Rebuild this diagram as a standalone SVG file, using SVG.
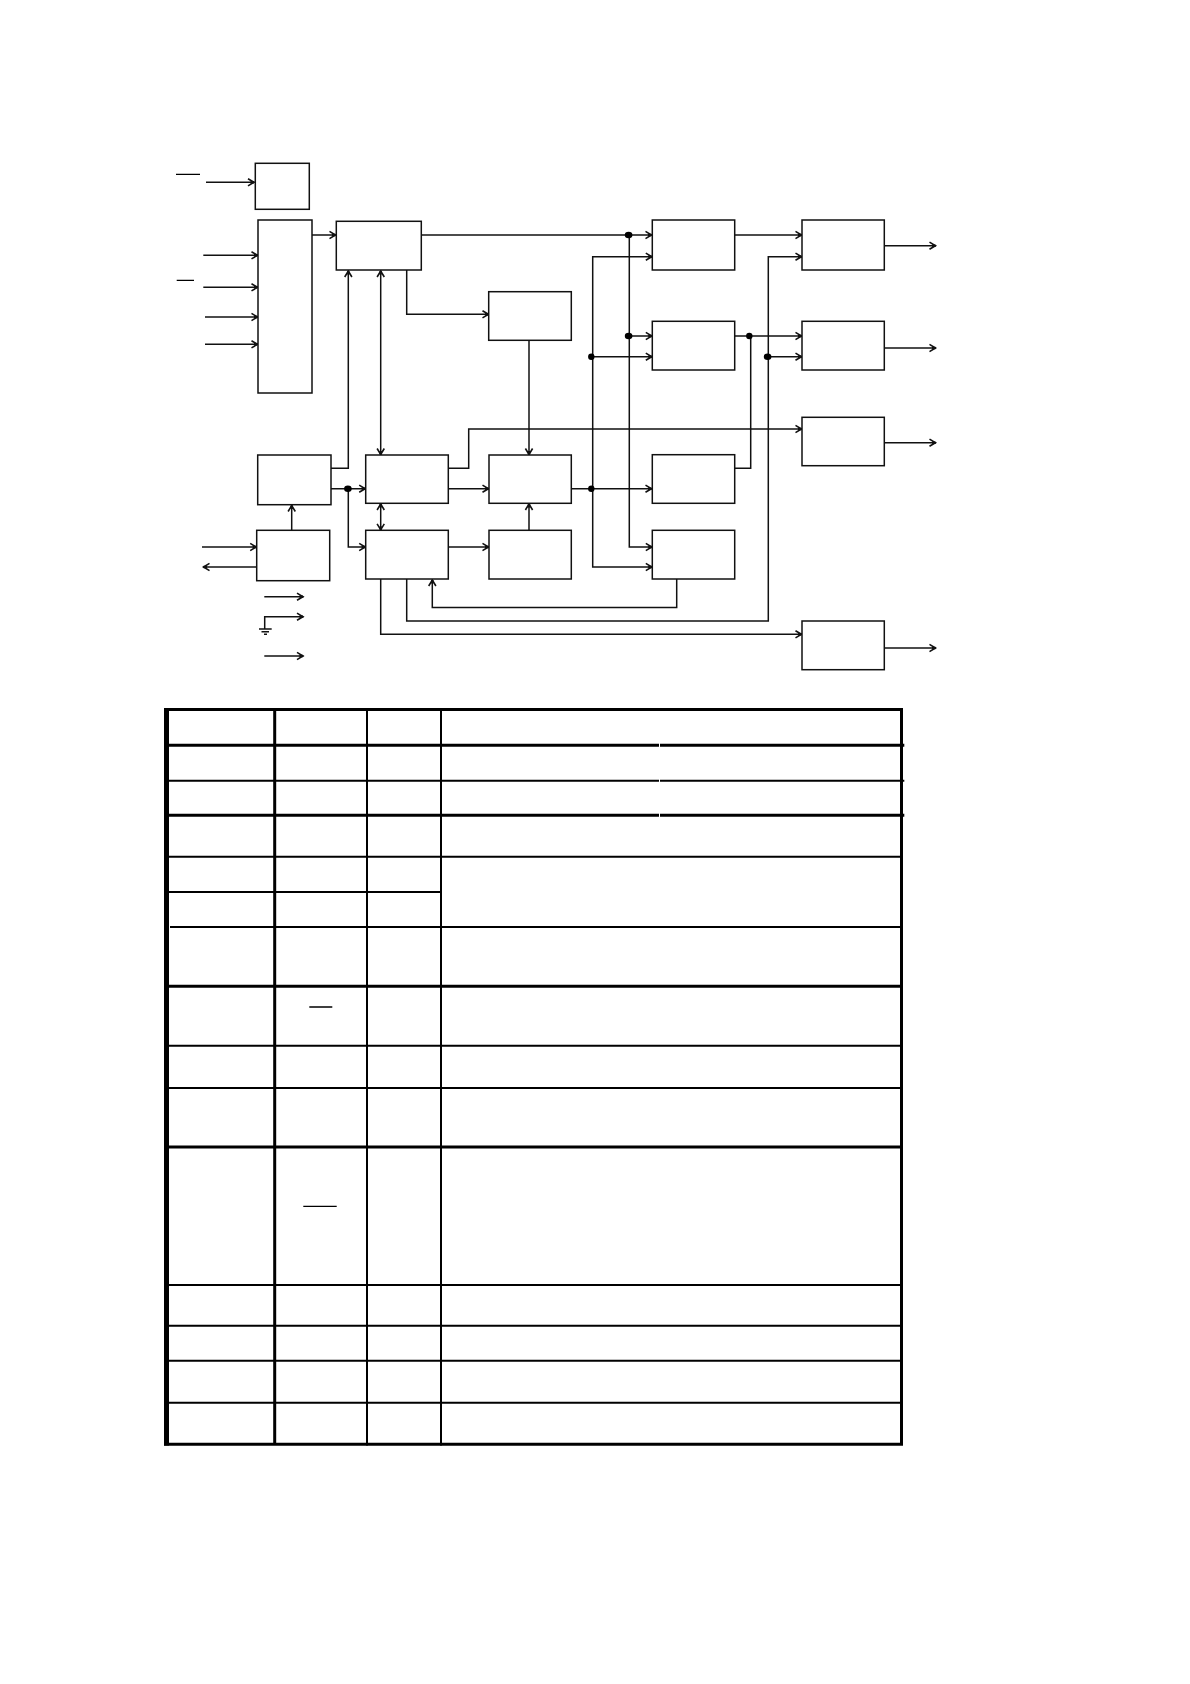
<svg xmlns="http://www.w3.org/2000/svg" width="1190" height="1684" viewBox="0 0 1190 1684">
<style>
.b{fill:#fff;stroke:#111;stroke-width:1.5}
.c{fill:none;stroke:#111;stroke-width:1.5}
.a{marker-end:url(#ar)}
.d{marker-start:url(#arS);marker-end:url(#ar)}
.n{fill:#000;stroke:none}
.t5{stroke:#000;stroke-width:5;fill:none}
.t3{stroke:#000;stroke-width:3;fill:none}
.t2{stroke:#000;stroke-width:2;fill:none}
.o{stroke:#000;stroke-width:1.3;fill:none}
</style>
<defs>
<marker id="ar" markerUnits="userSpaceOnUse" markerWidth="14" markerHeight="14" refX="12" refY="7" orient="auto"><path d="M5.500,3.400 L11.500,7 L5.500,10.600" fill="none" stroke="#111" stroke-width="1.600"/><path d="M8,7 L11.500,7" stroke="#111" stroke-width="2.400"/></marker>
<marker id="arS" markerUnits="userSpaceOnUse" markerWidth="14" markerHeight="14" refX="2" refY="7" orient="auto"><path d="M8.500,3.400 L2.500,7 L8.500,10.600" fill="none" stroke="#111" stroke-width="1.600"/><path d="M6,7 L2.500,7" stroke="#111" stroke-width="2.400"/></marker>
</defs>
<rect width="1190" height="1684" fill="#fff"/>
<g id="connectors">
<path class="o" d="M176 174.300H200M176.700 280.300H194"/>
<path class="c a" d="M206 182.300H254.500"/>
<path class="c a" d="M203.300 255.300H258"/>
<path class="c a" d="M203.300 287.300H258"/>
<path class="c a" d="M205 317H258"/>
<path class="c a" d="M205 344.300H258"/>
<path class="c a" d="M312 235H336"/>
<path class="c a" d="M421 235H652"/>
<path class="c a" d="M734.700 235H802"/>
<path class="c a" d="M406.700 270V314.300H489"/>
<path class="c a" d="M529 340V455"/>
<path class="c a" d="M331 468.300H348.300V270.500"/>
<path class="c d" d="M380.700 270.500V455"/>
<path class="c a" d="M331 488.700H365.700"/>
<path class="c a" d="M348.300 488.700V547H365.700"/>
<path class="c a" d="M448.300 488.700H489"/>
<path class="c a" d="M571.300 488.700H652"/>
<path class="c a" d="M448.300 547H489"/>
<path class="c d" d="M380.700 503.500V530.300"/>
<path class="c a" d="M529 530.300V503.500"/>
<path class="c a" d="M291.700 530.300V505"/>
<path class="c a" d="M202 547H256.700"/>
<path class="c a" d="M258 567H203"/>
<path class="c a" d="M264.300 596.700H303.500"/>
<path class="c a" d="M264.700 629V616.700H303.500"/>
<path class="c" d="M259 629H271.700M261.500 631.700H269M264 634.300H267"/>
<path class="c a" d="M264.300 656H303.500"/>
<path class="c a" d="M448.300 468.300H468.700V429H802"/>
<path class="c a" d="M629.300 235V547H652.300"/>
<path class="c a" d="M628.300 336H652.300"/>
<path class="c a" d="M592.700 488.700V256.700H652.300"/>
<path class="c a" d="M591.300 356.700H652.300"/>
<path class="c a" d="M592.700 488.700V567H652.300"/>
<path class="c a" d="M734.700 336H802"/>
<path class="c" d="M734.700 468.300H750.700V336"/>
<path class="c a" d="M767.300 356.700H802"/>
<path class="c a" d="M406.700 579V621H768.300V256.700H802"/>
<path class="c a" d="M380.700 579V634.300H802"/>
<path class="c a" d="M676.700 579V607.500H432.300V579.500"/>
<path class="c a" d="M884.300 245.700H936"/>
<path class="c a" d="M884.300 348H936"/>
<path class="c a" d="M884.300 442.700H936"/>
<path class="c a" d="M884.300 648H936"/>
<ellipse class="n" cx="628.600" cy="235" rx="3.800" ry="3.300"/>
<ellipse class="n" cx="628.600" cy="336" rx="3.800" ry="3.300"/>
<ellipse class="n" cx="591.300" cy="356.700" rx="3.200" ry="3.200"/>
<ellipse class="n" cx="749.300" cy="336" rx="3.200" ry="3.200"/>
<ellipse class="n" cx="767.600" cy="356.700" rx="3.800" ry="3.300"/>
<ellipse class="n" cx="347.900" cy="488.700" rx="3.800" ry="3.300"/>
<ellipse class="n" cx="591.300" cy="488.700" rx="3.200" ry="3.200"/>
</g>
<g id="node-a"><rect class="b" x="255.300" y="163.300" width="54" height="46"/></g>
<g id="node-b"><rect class="b" x="258" y="220" width="54" height="173"/></g>
<g id="node-c"><rect class="b" x="336.300" y="221.300" width="85" height="48.700"/></g>
<g id="node-d"><rect class="b" x="488.700" y="291.700" width="82.600" height="48.600"/></g>
<g id="node-e"><rect class="b" x="652.300" y="220" width="82.400" height="50"/></g>
<g id="node-f"><rect class="b" x="652.300" y="321.300" width="82.400" height="48.700"/></g>
<g id="node-g"><rect class="b" x="802" y="220" width="82.300" height="50"/></g>
<g id="node-h"><rect class="b" x="802" y="321.300" width="82.300" height="48.700"/></g>
<g id="node-i"><rect class="b" x="802" y="417.300" width="82.300" height="48.400"/></g>
<g id="node-j"><rect class="b" x="652.300" y="454.700" width="82.400" height="48.600"/></g>
<g id="node-k"><rect class="b" x="257.700" y="455" width="73.300" height="49.700"/></g>
<g id="node-l"><rect class="b" x="365.700" y="455" width="82.600" height="48.300"/></g>
<g id="node-m"><rect class="b" x="489" y="455" width="82.300" height="48.300"/></g>
<g id="node-n"><rect class="b" x="256.700" y="530.300" width="73" height="50.400"/></g>
<g id="node-o"><rect class="b" x="365.700" y="530.300" width="82.600" height="48.700"/></g>
<g id="node-p"><rect class="b" x="489" y="530.300" width="82.300" height="48.700"/></g>
<g id="node-q"><rect class="b" x="652.300" y="530.300" width="82.400" height="48.700"/></g>
<g id="node-r"><rect class="b" x="802" y="621" width="82.300" height="48.700"/></g>
<g id="table">
<path class="t5" d="M166.500 708V1445.500"/>
<path class="t3" d="M274.700 708V1445.500M164 709.500H903M901.500 708V1445.500M164 1444.300H903"/>
<path class="t2" d="M367 708V1445.500M441 708V1445.500"/>
<path class="t3" d="M169 745.300H659M660 745.300H904.300M169 815.300H659M660 815.300H904.300M169 986.300H901M169 1147H901"/>
<path class="t2" d="M169 780.700H659M660 780.700H904.300M169 856.700H901M169 892H441M170 927H901M169 1045.700H901M169 1088H901M169 1285H901M169 1325.700H901M169 1360.700H901M169 1402.700H901"/>
<path class="o" d="M309.300 1007H332.300M303.300 1206.300H336.700"/>
</g>
</svg>
